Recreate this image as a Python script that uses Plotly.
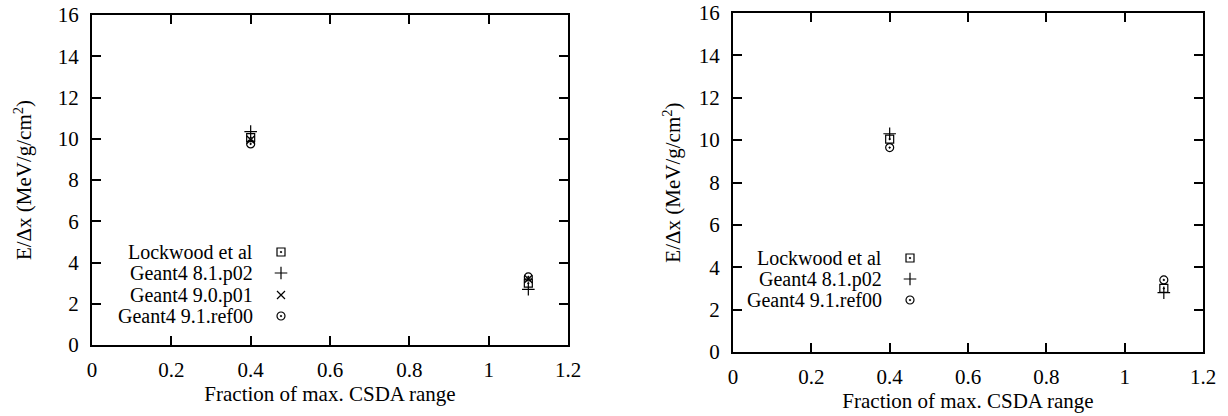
import plotly.graph_objects as go

# ---- data ----
x_frac = [0.4, 1.1]
left_lockwood = [10.05, 3.0]
left_g4_81 = [10.35, 2.7]
left_g4_90 = [9.95, 3.2]
left_g4_91 = [9.75, 3.3]

right_lockwood = [10.05, 3.0]
right_g4_81 = [10.3, 2.8]
right_g4_91 = [9.65, 3.4]

series_left = ["Lockwood et al", "Geant4 8.1.p02", "Geant4 9.0.p01", "Geant4 9.1.ref00"]
series_right = ["Lockwood et al", "Geant4 8.1.p02", "Geant4 9.1.ref00"]

x_ticks = [0, 0.2, 0.4, 0.6, 0.8, 1, 1.2]
x_tick_text = ["0", "0.2", "0.4", "0.6", "0.8", "1", "1.2"]
y_ticks = [0, 2, 4, 6, 8, 10, 12, 14, 16]

# ---- style ----
W, H = 1228, 416
FONT = "Liberation Serif, Times New Roman, DejaVu Serif, serif"
FS = 21
FS_LEG = 20
symbols = {
    "Lockwood et al": "square-open-dot",
    "Geant4 8.1.p02": "cross-thin-open",
    "Geant4 9.0.p01": "x-thin-open",
    "Geant4 9.1.ref00": "circle-open-dot",
}
msize = {"Lockwood et al": 8, "Geant4 8.1.p02": 9, "Geant4 9.0.p01": 8, "Geant4 9.1.ref00": 8}

fig = go.Figure()

def add_series(name, yvals, xa, ya):
    fig.add_trace(go.Scatter(
        x=x_frac, y=yvals, mode="markers", name=name, showlegend=False,
        xaxis=xa, yaxis=ya,
        marker=dict(symbol=symbols[name], size=msize[name], color="black",
                    line=dict(color="black", width=1.2)),
    ))

for n, v in zip(series_left, [left_lockwood, left_g4_81, left_g4_90, left_g4_91]):
    add_series(n, v, "x", "y")
for n, v in zip(series_right, [right_lockwood, right_g4_81, right_g4_91]):
    add_series(n, v, "x2", "y2")

# legend keys drawn on a full-page pixel-space helper axis
legend_left = dict(text_x=255, key_x=281, rows=[252, 273, 295, 316])
legend_right = dict(text_x=884, key_x=910, rows=[258, 279, 300])
annotations = []
for names, lg in [(series_left, legend_left), (series_right, legend_right)]:
    for n, yy in zip(names, lg["rows"]):
        fig.add_trace(go.Scatter(
            x=[lg["key_x"]], y=[yy], mode="markers", showlegend=False,
            xaxis="x3", yaxis="y3", hoverinfo="skip",
            marker=dict(symbol=symbols[n], size=msize[n], color="black",
                        line=dict(color="black", width=1.2)),
        ))
        annotations.append(dict(
            x=lg["text_x"] / W, y=1 - yy / H, xref="paper", yref="paper", text=n,
            showarrow=False, xanchor="right", yanchor="middle",
            font=dict(family=FONT, size=FS_LEG, color="black"),
        ))

def xaxis_style(domain):
    return dict(domain=domain, range=[0, 1.2], tickvals=x_ticks, ticktext=x_tick_text,
                ticks="inside", ticklen=9, tickwidth=1.5, tickcolor="black",
                ticklabelstandoff=5, automargin=False,
                showline=True, linecolor="black", linewidth=2, mirror="ticks",
                showgrid=False, zeroline=False,
                tickfont=dict(family=FONT, size=FS, color="black"),
                title=dict(text="Fraction of max. CSDA range", standoff=5,
                           font=dict(family=FONT, size=FS, color="black")))

def yaxis_style(domain, standoff):
    return dict(domain=domain, range=[0, 16], tickvals=y_ticks,
                ticks="inside", ticklen=9, tickwidth=1.5, tickcolor="black",
                ticklabelstandoff=7, automargin=False,
                showline=True, linecolor="black", linewidth=2, mirror="ticks",
                showgrid=False, zeroline=False,
                tickfont=dict(family=FONT, size=FS, color="black"),
                title=dict(text="E/Δx (MeV/g/cm<sup>2</sup>)", standoff=standoff,
                           font=dict(family=FONT, size=FS, color="black")))

fig.update_layout(
    template="none",
    width=W, height=H,
    margin=dict(l=0, r=0, t=0, b=0, autoexpand=False),
    paper_bgcolor="white", plot_bgcolor="rgba(0,0,0,0)",
    xaxis=dict(xaxis_style([92 / W, 568 / W]), anchor="y"),
    yaxis=dict(yaxis_style([1 - 345 / H, 1 - 15 / H], 20), anchor="x"),
    xaxis2=dict(xaxis_style([733 / W, 1203 / W]), anchor="y2"),
    yaxis2=dict(yaxis_style([1 - 352 / H, 1 - 13 / H], 12), anchor="x2"),
    xaxis3=dict(domain=[0, 1], range=[0, W], visible=False, anchor="y3", automargin=False),
    yaxis3=dict(domain=[0, 1], range=[H, 0], visible=False, anchor="x3", automargin=False),
    annotations=annotations,
    showlegend=False,
)

fig.write_html("out.html")
